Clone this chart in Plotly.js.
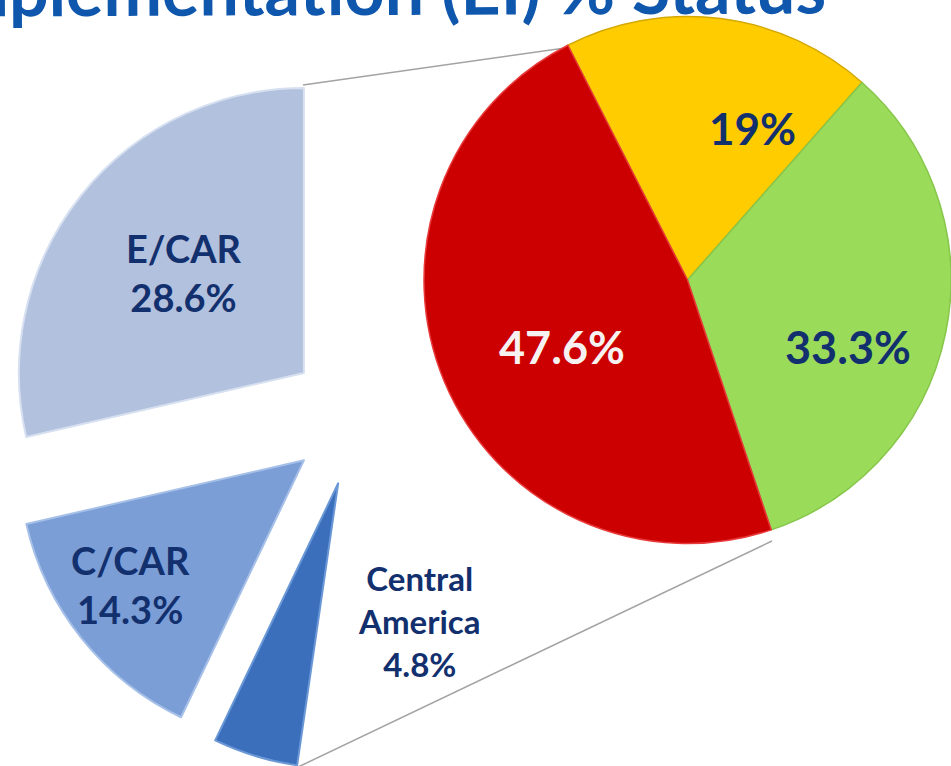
<!DOCTYPE html>
<html><head><meta charset="utf-8">
<script src="https://cdn.plot.ly/plotly-3.0.1.min.js"></script>
<style>html,body{margin:0;padding:0;overflow:hidden;background:#fff}#chart{width:951px;height:772px}</style>
</head><body><div id="chart"></div>
<script>
// ---- data ----
const regionLabels = ["E/CAR", "C/CAR", "Central America"];
const regionShares = [28.6, 14.3, 4.8];
const remainderLabel = "Broken down in right pie";
const remainderShare = 52.3;
const statusLabels = ["Yellow", "Green", "Red"];
const statusShares = [19, 33.3, 47.6];
const titleText = "Implementation (EI) % Status";

// ---- layout helpers ----
const W = 951, H = 772;
const px = x => x / W, py = y => 1 - y / H;

const regionColors = ["#b2c1de", "#7b9ed6", "#3b6fbc"];
const regionEdges  = ["#d6e0f0", "#a6c0e8", "#6a97d6"];
const statusColors = ["#ffcc00", "#9bdb5a", "#cc0000"];
const statusEdges  = ["#d4a800", "#86c64a", "#e83a3a"];
const navy = "#13306e";
const fontFam = "Lato, 'Open Sans', sans-serif";

// left pie: hidden remainder first, then regions clockwise back to 12 o'clock
const leftLabels = [remainderLabel].concat(regionLabels.slice().reverse());
const leftValues = [remainderShare].concat(regionShares.slice().reverse());
const leftColors = ["rgba(0,0,0,0)"].concat(regionColors.slice().reverse());
const leftEdges  = ["rgba(0,0,0,0)"].concat(regionEdges.slice().reverse());
const leftPull   = [0, 0.245, 0.245, 0.245];

const lcx = 358.5, lcy = 416.5, lhalf = 354.8;
const leftPie = {
  type: "pie", sort: false, direction: "clockwise", rotation: 0,
  labels: leftLabels, values: leftValues, pull: leftPull,
  marker: {colors: leftColors, line: {color: leftEdges, width: 2}},
  textinfo: "none", hoverinfo: "skip", showlegend: false,
  domain: {x: [px(lcx - lhalf), px(lcx + lhalf)], y: [py(lcy + lhalf), py(lcy - lhalf)]}
};

const rightPie = {
  type: "pie", sort: false, direction: "clockwise", rotation: -27,
  labels: statusLabels, values: statusShares,
  marker: {colors: statusColors, line: {color: statusEdges, width: 1.5}},
  textinfo: "none", hoverinfo: "skip", showlegend: false,
  domain: {x: [px(424), 1], y: [py(546), py(14)]}
};

const lab = (text, x, y, size, color) => ({
  text: text, x: px(x), y: py(y), xref: "paper", yref: "paper",
  xanchor: "center", yanchor: "middle", showarrow: false, align: "center",
  font: {family: fontFam, size: size, color: color, weight: 700}
});

const annotations = [
  // slide title (partly cut off at the top and left, as in the reference)
  {text: titleText, x: px(828), y: py(-12), xref: "paper", yref: "paper",
   xanchor: "right", yanchor: "middle", showarrow: false, textangle: -0.2,
   font: {family: fontFam, size: 70, color: "#0f57ad", weight: 700}},
  lab(regionLabels[0] + "<br>" + regionShares[0] + "%", 184, 273, 38, navy),
  lab(regionLabels[1] + "<br>" + regionShares[1] + "%", 130, 584, 38, navy),
  lab(regionLabels[2].replace(" ", "<br>") + "<br>" + regionShares[2] + "%", 419, 621, 33, navy),
  lab(statusShares[0] + "%", 752, 128, 44, navy),
  lab(statusShares[1] + "%", 848, 347, 45, navy),
  lab(statusShares[2] + "%", 562, 347, 45, "#f7f2f2")
];

const shapes = [
  {type: "line", xref: "paper", yref: "paper", layer: "below",
   x0: px(303), y0: py(85), x1: px(565), y1: py(48), line: {color: "#a3a3a3", width: 1.5}},
  {type: "line", xref: "paper", yref: "paper", layer: "below",
   x0: px(296), y0: py(768), x1: px(772), y1: py(541), line: {color: "#a3a3a3", width: 1.5}}
];

const layout = {
  width: W, height: H,
  margin: {l: 0, r: 0, t: 0, b: 0},
  paper_bgcolor: "#ffffff",
  showlegend: false,
  annotations: annotations,
  shapes: shapes
};

Plotly.newPlot("chart", [leftPie, rightPie], layout, {staticPlot: true, displayModeBar: false});
</script>
</body></html>
